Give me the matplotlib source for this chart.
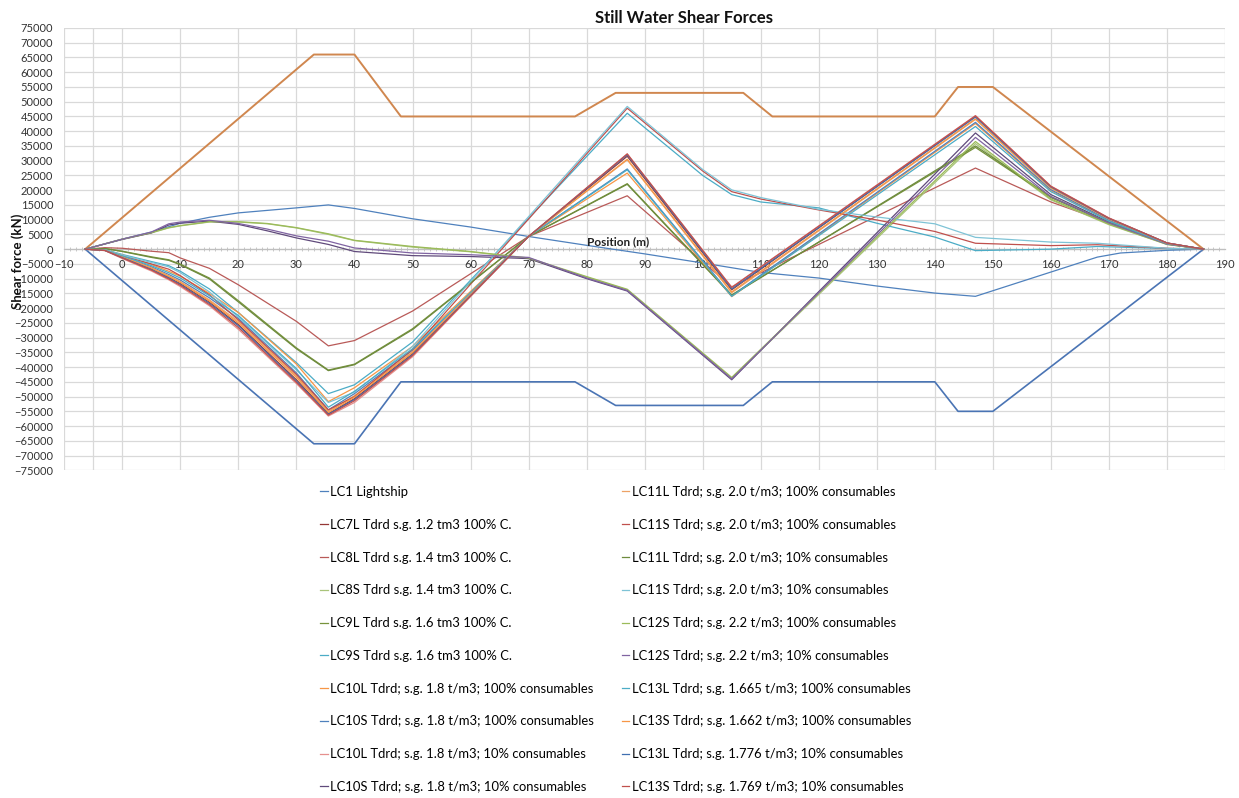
import matplotlib
matplotlib.use("Agg")
import matplotlib.pyplot as plt
import numpy as np

plt.rcParams['font.family'] = ['Lato', 'DejaVu Sans']

# Limites admissibles (trapèzes)
x_limit = [-6.4, 33, 40, 48, 78, 85, 107, 112, 140, 144, 150, 186.3]
upper_limit = [0, 66000, 66000, 45000, 45000, 53000, 53000, 45000, 45000, 55000, 55000, 0]
lower_limit = [0, -66000, -66000, -45000, -45000, -53000, -53000, -45000, -45000, -55000, -55000, 0]

# Lightship
x_ls = [-6.4, 0, 5, 10, 15, 20, 30, 35.5, 40, 50, 60, 70, 80, 90, 100, 110, 120, 130, 140, 147, 168, 172, 180, 186.3]
lc1 = [0, 3400, 5800, 8800, 10800, 12300, 14000, 15000, 13800, 10300, 7500, 4300, 1300, -1600, -4700, -7900, -9800, -12500, -14900, -16000, -2700, -1300, -400, 0]

# Cas "L" (et assimilés)
x_d = [-6.4, -3, 0, 5, 8, 10, 15, 20, 30, 35.5, 40, 50, 70, 87, 105, 147, 160, 170, 180, 186.3]
lc7l = [0, -400, -2800, -6700, -9600, -11700, -18000, -25600, -44300, -55800, -50700, -35500, 4300, 31500, -13800, 45000, 21200, 10500, 2100, 0]
lc8l = [0, 500, 300, -700, -1200, -3000, -6500, -12100, -24500, -32800, -31000, -21000, 4300, 18100, -12800, 27500, 16000, 9000, 1900, 0]
lc9l = [0, 200, -700, -2600, -3600, -5100, -9800, -17500, -33500, -41000, -39000, -27000, 4300, 22200, -15500, 34500, 17500, 8800, 1800, 0]
lc10l_100 = [0, -300, -2000, -5200, -7500, -9200, -15000, -21500, -39000, -51700, -47000, -33000, 4300, 25800, -16100, 42600, 19900, 9700, 1900, 0]
lc10s_100 = [0, -400, -2500, -6000, -8600, -10500, -16500, -23500, -42000, -54500, -49000, -34300, 4300, 27200, -15800, 43000, 20200, 9900, 2000, 0]
lc10l_10 = [0, -500, -3200, -7400, -10400, -12700, -19200, -27200, -45600, -56600, -52000, -36500, 4300, 32300, -12900, 45300, 21400, 10600, 2100, 0]
lc11l_100 = [0, -400, -2600, -6300, -9000, -11000, -17200, -24500, -43000, -55000, -49700, -34800, 4300, 30300, -14800, 44000, 20700, 10200, 2000, 0]
lc11l_10 = [0, 200, -800, -2800, -3800, -5300, -10100, -17900, -33800, -41200, -39200, -27300, 4300, 22000, -15700, 35000, 17800, 9000, 1800, 0]
lc13l_100 = [0, -300, -2300, -5600, -8000, -9800, -15800, -22500, -40500, -53600, -48200, -33800, 4300, 26900, -16000, 41600, 19500, 9500, 1900, 0]
lc13s_100 = [0, -400, -2700, -6500, -9300, -11300, -17600, -25000, -43500, -55400, -50200, -35100, 4300, 30500, -14500, 44200, 20800, 10300, 2000, 0]
lc13l_10 = [0, -450, -2900, -6900, -9800, -12000, -18400, -26000, -44800, -56000, -51000, -35800, 4300, 32000, -13500, 44800, 21100, 10400, 2100, 0]
lc13s_10 = [0, -450, -3000, -7100, -10100, -12300, -18800, -26600, -45200, -56300, -51400, -36100, 4300, 32300, -13000, 45200, 21300, 10500, 2100, 0]

# Cas "S" à forte pente (pic ~47000 à 87 m)
x_c = [-6.4, -3, 0, 5, 8, 10, 15, 20, 30, 35.5, 40, 50, 87, 100, 105, 110, 120, 130, 140, 147, 160, 168, 180, 186.3]
lc9s = [0, -150, -1800, -4200, -5600, -7500, -13500, -21500, -38500, -49000, -46000, -31500, 46100, 25000, 18500, 16000, 14000, 8800, 4100, -500, 0, 900, 200, 0]
lc11s_100 = [0, -250, -2300, -5000, -6800, -9000, -15500, -24000, -42500, -54500, -50000, -34000, 47800, 26500, 19500, 17000, 13300, 9900, 6000, 2000, 1200, 1500, 300, 0]
lc11s_10 = [0, -200, -2000, -4500, -6000, -8000, -14500, -23000, -41000, -52000, -48500, -33000, 48400, 27000, 20100, 17500, 13500, 10900, 8600, 4000, 2400, 2000, 300, 0]

# Cas "S" en arc (creux -44000 à 105 m)
x_b = [-6.4, 0, 5, 8, 10, 15, 20, 25, 30, 35.5, 40, 50, 60, 70, 80, 87, 105, 147, 160, 170, 180, 186.3]
lc8s = [0, 3400, 5500, 7200, 7900, 9200, 9200, 8600, 7200, 5000, 2900, 700, -900, -3200, -9500, -13800, -43800, 35800, 16700, 8300, 1600, 0]
lc10s_10 = [0, 3300, 5500, 8200, 8800, 9500, 8400, 6200, 3800, 1600, -800, -2200, -2500, -3200, -10000, -14200, -44300, 39400, 18500, 9200, 1800, 0]
lc12s_100 = [0, 3400, 5600, 7300, 8000, 9300, 9300, 8700, 7300, 5200, 3000, 900, -800, -3000, -9300, -13600, -43500, 36500, 17000, 8500, 1600, 0]
lc12s_10 = [0, 3400, 5800, 8600, 9200, 9800, 8700, 6800, 4500, 2700, 400, -1300, -1900, -2800, -9800, -14000, -44000, 37900, 17800, 8900, 1700, 0]

series = [
    ("LC1 Lightship", x_ls, lc1, '#4F81BD'),
    ("LC7L Tdrd s.g. 1.2 tm3 100% C.", x_d, lc7l, '#953735'),
    ("LC8L Tdrd s.g. 1.4 tm3 100% C.", x_d, lc8l, '#B95A58'),
    ("LC8S Tdrd s.g. 1.4 tm3 100% C.", x_b, lc8s, '#A9C47A'),
    ("LC9L Tdrd s.g. 1.6 tm3 100% C.", x_d, lc9l, '#77933C'),
    ("LC9S Tdrd s.g. 1.6 tm3 100% C.", x_c, lc9s, '#4BACC6'),
    ("LC10L Tdrd; s.g. 1.8 t/m3; 100% consumables", x_d, lc10l_100, '#F79646'),
    ("LC10S Tdrd; s.g. 1.8 t/m3; 100% consumables", x_d, lc10s_100, '#4F81BD'),
    ("LC10L Tdrd; s.g. 1.8 t/m3; 10% consumables", x_d, lc10l_10, '#E6908E'),
    ("LC10S Tdrd; s.g. 1.8 t/m3; 10% consumables", x_b, lc10s_10, '#604A7B'),
    ("LC11L Tdrd; s.g. 2.0 t/m3; 100% consumables", x_d, lc11l_100, '#EDA266'),
    ("LC11S Tdrd; s.g. 2.0 t/m3; 100% consumables", x_c, lc11s_100, '#C0504D'),
    ("LC11L Tdrd; s.g. 2.0 t/m3; 10% consumables", x_d, lc11l_10, '#6E8B3D'),
    ("LC11S Tdrd; s.g. 2.0 t/m3; 10% consumables", x_c, lc11s_10, '#7EC3D6'),
    ("LC12S Tdrd; s.g. 2.2 t/m3; 100% consumables", x_b, lc12s_100, '#9BBB59'),
    ("LC12S Tdrd; s.g. 2.2 t/m3; 10% consumables", x_b, lc12s_10, '#8064A2'),
    ("LC13L Tdrd; s.g. 1.665 t/m3; 100% consumables", x_d, lc13l_100, '#4BACC6'),
    ("LC13S Tdrd; s.g. 1.662 t/m3; 100% consumables", x_d, lc13s_100, '#F79646'),
    ("LC13L Tdrd; s.g. 1.776 t/m3; 10% consumables", x_d, lc13l_10, '#3F6FB0'),
    ("LC13S Tdrd; s.g. 1.769 t/m3; 10% consumables", x_d, lc13s_10, '#C0504D'),
]

fig = plt.figure(figsize=(12.39, 7.98), dpi=100)
ax = fig.add_axes([64.3 / 1239, 1 - 470.3 / 798, (1225 - 64.3) / 1239, (470.3 - 28) / 798])

# Quadrillage
for y in np.arange(-75000, 75001, 5000):
    ax.axhline(y, color='#D9D9D9', lw=0.9, zorder=0)
for x in list(range(-10, 191, 10)) + [-5]:
    ax.axvline(x, color='#D9D9D9', lw=0.9, zorder=0)

ax.plot(x_limit, upper_limit, color='#D0874F', lw=1.4, zorder=2)
ax.plot(x_limit, lower_limit, color='#4A74B4', lw=1.2, zorder=2)

for label, xs, ys, col in series:
    ax.plot(xs, ys, color=col, lw=0.9, label=label, zorder=3)

ax.set_xlim(-10, 190)
ax.set_ylim(-75000, 75000)
ax.set_xticks(range(-10, 191, 10))
ax.set_yticks(range(-75000, 75001, 5000))
ax.set_xticks(np.arange(-10, 191, 1), minor=True)

for s in ['top', 'right', 'left']:
    ax.spines[s].set_visible(False)
ax.spines['bottom'].set_position(('data', 0))
ax.spines['bottom'].set_color('#BFBFBF')
ax.spines['bottom'].set_linewidth(0.9)

ax.tick_params(axis='y', length=0, pad=8, labelsize=8, labelcolor='#333333')
ax.tick_params(axis='x', which='major', length=0, pad=7, labelsize=8, labelcolor='#333333')
ax.tick_params(axis='x', which='minor', length=3, width=0.6, color='#BFBFBF', direction='inout')

ax.text(85.4, 800, "Position (m)", ha='center', va='bottom', fontsize=8.5, fontweight='bold', color='#222222')
fig.text(18 / 1239, 1 - 261 / 798, "Shear force (kN)", rotation=90, ha='center', va='center',
         fontsize=9.5, fontweight='bold', color='#111111')
fig.text(684 / 1239, 1 - 18 / 798, "Still Water Shear Forces", ha='center', va='center',
         fontsize=12, fontweight='bold', color='#111111')

fig.legend(loc='upper left', bbox_to_anchor=(320 / 1239, 1 - 486 / 798), ncol=2, frameon=False,
           fontsize=9.35, handlelength=0.6, handletextpad=0.2, labelspacing=1.6, columnspacing=2.1,
           borderaxespad=0, borderpad=0)

fig.savefig("out.png", dpi=100)
